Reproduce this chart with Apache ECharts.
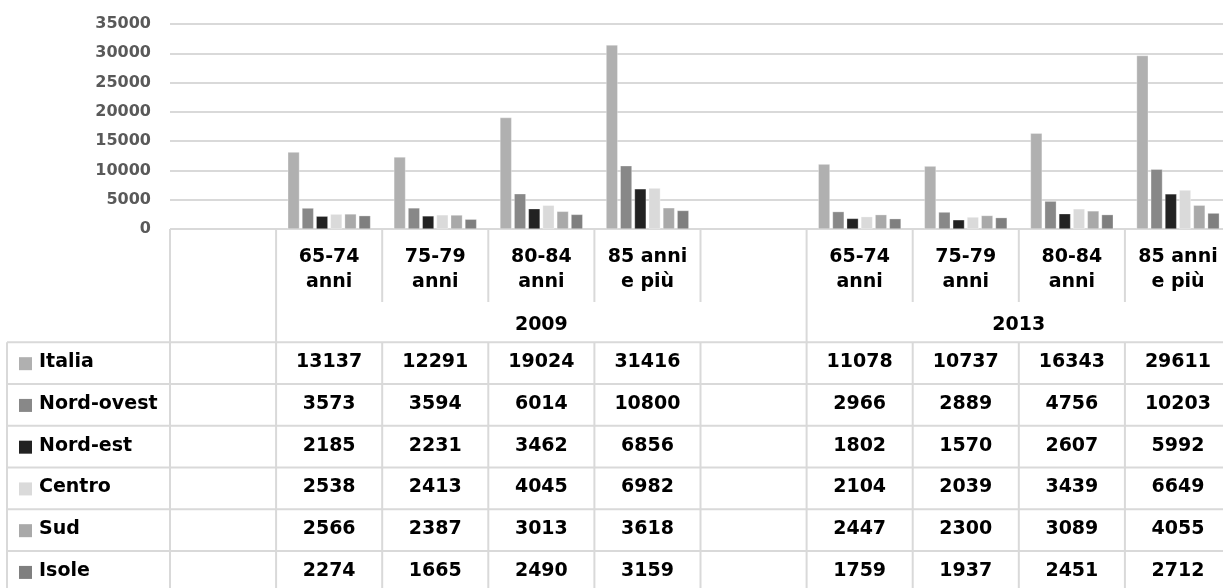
<!DOCTYPE html>
<html><head><meta charset="utf-8">
<script src="https://cdn.jsdelivr.net/npm/echarts@6/dist/echarts.min.js"></script>
<style>html,body{margin:0;padding:0;background:#fff;overflow:hidden}#c{width:1223px;height:588px}</style>
</head><body><div id="c"></div>
<script>
// ---- data ----
const categories = ['', '65-74 anni', '75-79 anni', '80-84 anni', '85 anni e più', '', '65-74 anni', '75-79 anni', '80-84 anni', '85 anni e più'];
const ageLabels = ['', '65-74\nanni', '75-79\nanni', '80-84\nanni', '85 anni\ne più', '', '65-74\nanni', '75-79\nanni', '80-84\nanni', '85 anni\ne più'];
const yearLabels = ['2009', '2013'];
const yearFrom = [1, 6];
const yearTo = [5, 9];
const seriesNames = ['Italia', 'Nord-ovest', 'Nord-est', 'Centro', 'Sud', 'Isole'];
const italia    = [null, 13137, 12291, 19024, 31416, null, 11078, 10737, 16343, 29611];
const nordOvest = [null, 3573, 3594, 6014, 10800, null, 2966, 2889, 4756, 10203];
const nordEst   = [null, 2185, 2231, 3462, 6856, null, 1802, 1570, 2607, 5992];
const centro    = [null, 2538, 2413, 4045, 6982, null, 2104, 2039, 3439, 6649];
const sud       = [null, 2566, 2387, 3013, 3618, null, 2447, 2300, 3089, 4055];
const isole     = [null, 2274, 1665, 2490, 3159, null, 1759, 1937, 2451, 2712];
const yMin = 0, yMax = 35000, yInterval = 5000;

// ---- styles ----
const colors = ['#b0b0b0', '#888888', '#222222', '#dadada', '#a9a9a9', '#7f7f7f'];
const seriesData = [italia, nordOvest, nordEst, centro, sud, isole];
const lineColor = '#d9d9d9';
const tableFont = 'DejaVu Sans';

const chart = echarts.init(document.getElementById('c'), null, {renderer: 'canvas'});
chart.setOption({
  animation: false,
  backgroundColor: '#fff',
  grid: {left: 170, width: 1061, top: 24, bottom: 359, containLabel: false, outerBoundsMode: 'none'},
  xAxis: {
    type: 'category', data: categories,
    axisLine: {show: false},
    axisTick: {show: false},
    axisLabel: {
      interval: 0, margin: 16,
      formatter: (v, i) => ageLabels[i],
      fontFamily: tableFont, fontWeight: 'bold', fontSize: 19, lineHeight: 25, color: '#000'
    }
  },
  yAxis: {
    type: 'value', min: yMin, max: yMax, interval: yInterval,
    axisLine: {show: false}, axisTick: {show: false},
    axisLabel: {margin: 19, fontFamily: 'DejaVu Sans', fontWeight: 'bold', fontSize: 16, color: '#595959',
      formatter: v => String(v)},
    splitLine: {lineStyle: {color: lineColor, width: 2}}
  },
  series: seriesNames.map((n, k) => ({
    name: n, type: 'bar', data: seriesData[k],
    barGap: '22%', barCategoryGap: '22%',
    itemStyle: {color: colors[k], borderColor: 'rgba(255,255,255,0.6)', borderWidth: 0.5}
  }))
});

// ---- data table built from axis positions ----
const cx = i => chart.convertToPixel({xAxisIndex: 0}, i);
const bw = cx(1) - cx(0);
const edge = i => cx(i) - bw / 2;           // left edge of category i
const n = categories.length;
const zeroY = chart.convertToPixel({yAxisIndex: 0}, 0);
const ageBottom = 302, yearBottom = 342.3, rowH = 41.75, labelLeft = 7;
const rightEnd = edge(n);
const g = [];
const L = (x1, y1, x2, y2) => g.push({type: 'line', silent: true, shape: {x1, y1, x2, y2}, style: {stroke: lineColor, lineWidth: 2}});
const T = (text, x, y, align) => g.push({type: 'text', silent: true, style: {text, x, y, align: align || 'center', verticalAlign: 'middle', font: 'bold 19px "' + tableFont + '"', fill: '#000'}});
const tableBottom = yearBottom + rowH * seriesNames.length;
// horizontal lines
L(edge(0), zeroY, rightEnd, zeroY);
for (let r = 0; r <= seriesNames.length; r++) L(labelLeft, yearBottom + r * rowH, rightEnd, yearBottom + r * rowH);
// vertical lines
L(labelLeft, yearBottom, labelLeft, tableBottom);
const yearStarts = [0].concat(yearFrom);
for (let i = 0; i <= n; i++) {
  const full = yearStarts.includes(i) || i === n;
  L(edge(i), zeroY, edge(i), ageBottom);
  if (full) L(edge(i), ageBottom, edge(i), yearBottom);
  L(edge(i), yearBottom, edge(i), tableBottom);
}
// year labels
yearLabels.forEach((y, k) => T(y, (edge(yearFrom[k]) + edge(yearTo[k] + 1)) / 2, (ageBottom + yearBottom) / 2 + 3));
// rows
seriesNames.forEach((name, r) => {
  const yc = yearBottom + r * rowH + rowH / 2;
  g.push({type: 'rect', silent: true, shape: {x: 19, y: yc - 6, width: 13, height: 13}, style: {fill: colors[r]}});
  T(name, 39, yc - 1, 'left');
  seriesData[r].forEach((v, i) => { if (v != null) T(String(v), cx(i), yc - 1); });
});
chart.setOption({graphic: g});
</script></body></html>
